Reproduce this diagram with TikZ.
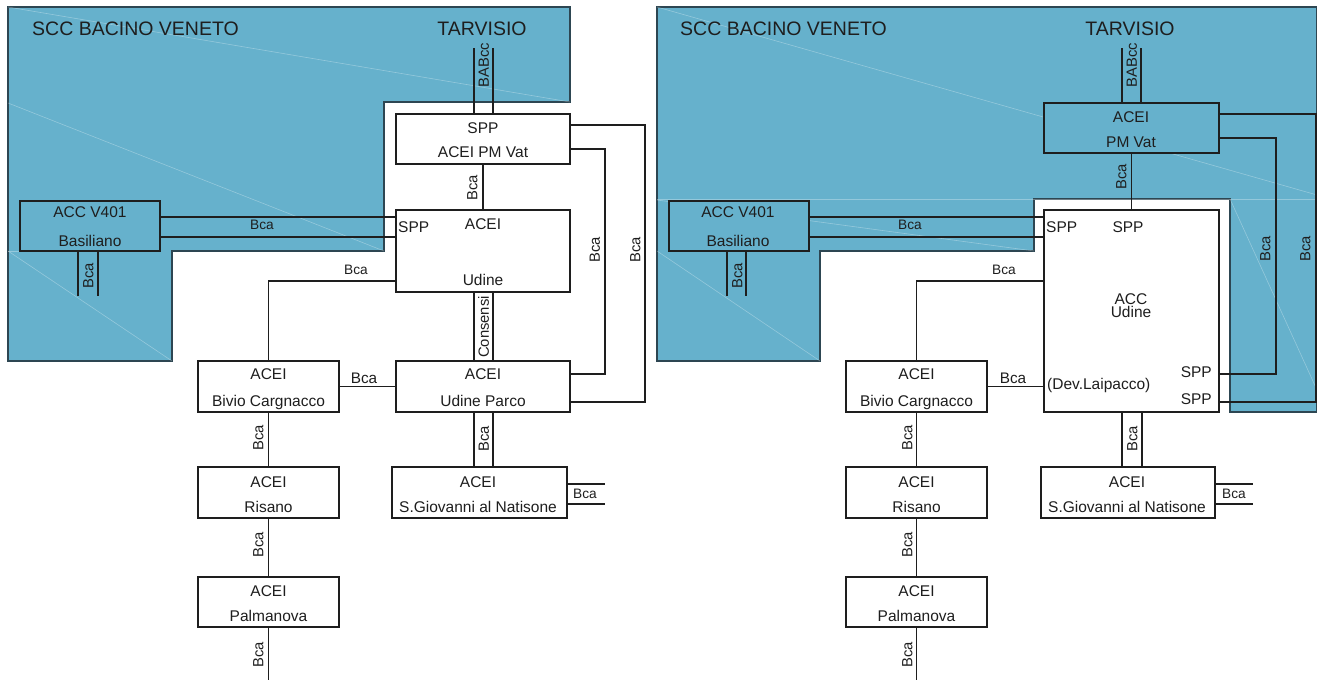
\documentclass[tikz,border=0pt]{standalone}
\usepackage{fontspec}
\setmainfont{Liberation Sans}
\definecolor{bluebg}{RGB}{102,177,204}
\definecolor{blueline}{RGB}{45,70,82}
\definecolor{ink}{RGB}{30,30,30}
\begin{document}
\begin{tikzpicture}[x=1pt,y=-1pt,
 box/.style={draw=ink, line width=1.1pt, fill=white, inner sep=0pt, outer sep=0pt},
 bbox/.style={box, fill=bluebg},
 wire/.style={draw=ink, line width=1.1pt},
 txt/.style={font=\fontsize{15.5}{18}\selectfont, inner sep=0pt, text height=11.1pt, text depth=0pt, text=ink},
 big/.style={font=\fontsize{19.5}{22}\selectfont, inner sep=0pt, text height=14pt, text depth=0pt, text=ink},
 sm/.style={font=\fontsize{13.7}{16}\selectfont, inner sep=0pt, text height=9.8pt, text depth=0pt, text=ink},
 mid/.style={font=\fontsize{15.3}{18}\selectfont, inner sep=0pt, text height=11pt, text depth=0pt, text=ink},
 rl/.style={font=\fontsize{14.8}{17}\selectfont, inner sep=0pt, text height=10.6pt, text depth=0pt, rotate=90, text=ink},
 zone/.style={fill=bluebg, draw=blueline, line width=1.1pt},
 faint/.style={draw=white, opacity=0.3, line width=0.6pt}
]
\useasboundingbox (0,0) rectangle (1317,680);

% ---------------- zones ----------------
\path[zone] (8,7) -- (570,7) -- (570,102) -- (384,102) -- (384,251) -- (172,251) -- (172,361) -- (8,361) -- cycle;
\path[zone] (657,7) -- (1317,7) -- (1317,412) -- (1230,412) -- (1230,199) -- (1034,199) -- (1034,251) -- (820,251) -- (820,361) -- (657,361) -- cycle;
\draw[faint] (8,7) -- (570,102);
\draw[faint] (8,103) -- (384,251);
\draw[faint] (8,251) -- (172,361);
\draw[faint] (8,251) -- (20,251);
\draw[faint] (657,7) -- (1317,195);
\draw[faint] (657,199) -- (1317,199);
\draw[faint] (657,200) -- (1034,251);
\draw[faint] (657,251) -- (820,361);
\draw[faint] (1230,199) -- (1317,390);

% ---------------- left panel boxes ----------------
\node[box, minimum width=174pt, minimum height=50pt] (pmvat) at (483,139) {};
\node[box, minimum width=174pt, minimum height=82pt] (udine) at (483,251) {};
\node[bbox, minimum width=140pt, minimum height=50pt] (acc) at (90,226) {};
\node[box, minimum width=141pt, minimum height=51pt] (bivio) at (268.5,386.5) {};
\node[box, minimum width=174pt, minimum height=51pt] (parco) at (483,386.5) {};
\node[box, minimum width=141pt, minimum height=51pt] (risano) at (268.5,492.5) {};
\node[box, minimum width=141pt, minimum height=50pt] (palma) at (268.5,602) {};
\node[box, minimum width=175pt, minimum height=51pt] (sgio) at (479.5,492.5) {};

% ---------------- left panel connectors ----------------
\coordinate (tvA) at (474,48);
\coordinate (tvB) at (493,48);
\draw[wire] (tvA) -- (tvA |- pmvat.north);
\draw[wire] (tvB) -- (tvB |- pmvat.north);
\draw[wire] (pmvat.south) -- (udine.north);
\coordinate (accR1) at ([yshift=9pt]acc.east);
\coordinate (accR2) at ([yshift=-11pt]acc.east);
\draw[wire] (accR1) -- (accR1 -| udine.west);
\draw[wire] (accR2) -- (accR2 -| udine.west);
\coordinate (accB1) at ([xshift=-12pt]acc.south);
\coordinate (accB2) at ([xshift=8pt]acc.south);
\coordinate (accE1) at (78,296);
\coordinate (accE2) at (98,296);
\draw[wire] (accB1) -- (accE1);
\draw[wire] (accB2) -- (accE2);
\draw[wire] ([yshift=-30pt]udine.west) -| (bivio.north);
\draw[wire] ([xshift=-9pt]udine.south) -- ([xshift=-9pt]parco.north);
\draw[wire] ([xshift=10pt]udine.south) -- ([xshift=10pt]parco.north);
\draw[wire] ([yshift=-10pt]pmvat.east) -- ++(35,0) |- ([yshift=12.5pt]parco.east);
\draw[wire] ([yshift=14pt]pmvat.east) -- ++(75,0) |- ([yshift=-15.5pt]parco.east);
\draw[wire] (bivio.east) -- (parco.west);
\draw[wire] (bivio.south) -- (risano.north);
\draw[wire] (risano.south) -- (palma.north);
\coordinate (palE) at (268.5,680);
\draw[wire] (palma.south) -- (palE);
\coordinate (pcS1) at ([xshift=-9pt]parco.south);
\coordinate (pcS2) at ([xshift=10pt]parco.south);
\draw[wire] (pcS1) -- (pcS1 |- sgio.north);
\draw[wire] (pcS2) -- (pcS2 |- sgio.north);
\draw[wire] ([yshift=8.5pt]sgio.east) -- ++(38,0);
\draw[wire] ([yshift=-11.5pt]sgio.east) -- ++(38,0);

% ---------------- left panel labels ----------------
\node[big, anchor=west] (lhdr) at (32,28) {SCC BACINO VENETO};
\node[big] (ltarv) at (482,28) {TARVISIO};
\node[rl] (lbab) at (483.5,65) {BABcc};
\node[txt] (lpm1) at (483,128) {SPP};
\node[txt] (lpm2) at (483,152) {ACEI PM Vat};
\node[txt] (lud1) at (483,224) {ACEI};
\node[txt] (lud2) at (483,280) {Udine};
\node[txt, anchor=west] (lud3) at (398,227) {SPP};
\node[rl] (lb1) at (472,188) {Bca};
\node[txt] (lac1) at (90,212) {ACC V401};
\node[txt] (lac2) at (90,241) {Basiliano};
\node[sm] (lb2) at (262,225) {Bca};
\node[rl] (lb3) at (88,276) {Bca};
\node[sm] (lb4) at (356,270) {Bca};
\node[rl] (lcons) at (483.5,327) {Consensi};
\node[rl] (lb5) at (594.5,250) {Bca};
\node[rl] (lb6) at (635,250) {Bca};
\node[txt] (lbv1) at (268.5,374) {ACEI};
\node[txt] (lbv2) at (268.5,401) {Bivio Cargnacco};
\node[mid] (lb7) at (364,378) {Bca};
\node[txt] (lpc1) at (483,374) {ACEI};
\node[txt] (lpc2) at (483,401) {Udine Parco};
\node[rl] (lb8) at (258,438) {Bca};
\node[rl] (lb9) at (258,545) {Bca};
\node[rl] (lb10) at (258,655) {Bca};
\node[txt] (lri1) at (268.5,482) {ACEI};
\node[txt] (lri2) at (268.5,507) {Risano};
\node[txt] (lpa1) at (268.5,591) {ACEI};
\node[txt] (lpa2) at (268.5,616) {Palmanova};
\node[rl] (lb11) at (483.5,439) {Bca};
\node[txt] (lsg1) at (478,482) {ACEI};
\node[txt] (lsg2) at (478,507) {S.Giovanni al Natisone};
\node[sm] (lb12) at (585,494) {Bca};

% ---------------- right panel boxes ----------------
\node[bbox, minimum width=175pt, minimum height=50pt] (pmvat2) at (1131.5,128) {};
\node[box, minimum width=175pt, minimum height=202pt] (accu) at (1131.5,311) {};
\node[bbox, minimum width=140pt, minimum height=50pt] (acc2) at (739,226) {};
\node[box, minimum width=141pt, minimum height=51pt] (bivio2) at (916.5,386.5) {};
\node[box, minimum width=141pt, minimum height=51pt] (risano2) at (916.5,492.5) {};
\node[box, minimum width=141pt, minimum height=50pt] (palma2) at (916.5,602) {};
\node[box, minimum width=174pt, minimum height=51pt] (sgio2) at (1128,492.5) {};

% ---------------- right panel connectors ----------------
\coordinate (tvC) at (1122,48);
\coordinate (tvD) at (1141,48);
\draw[wire] (tvC) -- (tvC |- pmvat2.north);
\draw[wire] (tvD) -- (tvD |- pmvat2.north);
\draw[wire] (pmvat2.south) -- (accu.north);
\coordinate (acc2R1) at ([yshift=9pt]acc2.east);
\coordinate (acc2R2) at ([yshift=-11pt]acc2.east);
\draw[wire] (acc2R1) -- (acc2R1 -| accu.west);
\draw[wire] (acc2R2) -- (acc2R2 -| accu.west);
\coordinate (acc2B1) at ([xshift=-12pt]acc2.south);
\coordinate (acc2B2) at ([xshift=7pt]acc2.south);
\coordinate (acc2E1) at (727,296);
\coordinate (acc2E2) at (746,296);
\draw[wire] (acc2B1) -- (acc2E1);
\draw[wire] (acc2B2) -- (acc2E2);
\draw[wire] ([yshift=30pt]accu.west) -| (bivio2.north);
\draw[wire] (bivio2.east) -- (bivio2.east -| accu.west);
\draw[wire] ([yshift=-63pt]accu.east) -- ++(57,0) |- ([yshift=-10pt]pmvat2.east);
\draw[wire] ([yshift=-91pt]accu.east) -- ++(97,0) |- ([yshift=14pt]pmvat2.east);
\draw[wire] (bivio2.south) -- (risano2.north);
\draw[wire] (risano2.south) -- (palma2.north);
\coordinate (palE2) at (916.5,680);
\draw[wire] (palma2.south) -- (palE2);
\coordinate (auS1) at ([xshift=-9.5pt]accu.south);
\coordinate (auS2) at ([xshift=10.5pt]accu.south);
\draw[wire] (auS1) -- (auS1 |- sgio2.north);
\draw[wire] (auS2) -- (auS2 |- sgio2.north);
\draw[wire] ([yshift=8.5pt]sgio2.east) -- ++(38,0);
\draw[wire] ([yshift=-11.5pt]sgio2.east) -- ++(38,0);

% ---------------- right panel labels ----------------
\node[big, anchor=west] (rhdr) at (680,28) {SCC BACINO VENETO};
\node[big] (rtarv) at (1130,28) {TARVISIO};
\node[rl] (rbab) at (1131.5,65) {BABcc};
\node[txt] (rpm1) at (1131,117) {ACEI};
\node[txt] (rpm2) at (1131,142) {PM Vat};
\node[rl] (rb1) at (1121,177) {Bca};
\node[txt, anchor=west] (rau1) at (1046,227) {SPP};
\node[txt] (rau2) at (1128,227) {SPP};
\node[txt] (rau3) at (1131,299) {ACC};
\node[txt] (rau4) at (1131,312) {Udine};
\node[txt, anchor=east] (rau5) at (1212,372) {SPP};
\node[txt, anchor=east] (rau6) at (1212,399) {SPP};
\node[txt, anchor=west] (rau7) at (1047,384) {(Dev.Laipacco)};
\node[rl] (rb2) at (1265,249) {Bca};
\node[rl] (rb3) at (1305,249) {Bca};
\node[txt] (rac1) at (738,212) {ACC V401};
\node[txt] (rac2) at (738,241) {Basiliano};
\node[sm] (rb4) at (910,225) {Bca};
\node[rl] (rb5) at (737,276) {Bca};
\node[sm] (rb6) at (1004,270) {Bca};
\node[txt] (rbv1) at (916.5,374) {ACEI};
\node[txt] (rbv2) at (916.5,401) {Bivio Cargnacco};
\node[mid] (rb7) at (1013,378) {Bca};
\node[rl] (rb8) at (907,438) {Bca};
\node[rl] (rb9) at (907,545) {Bca};
\node[rl] (rb10) at (907,655) {Bca};
\node[txt] (rri1) at (916.5,482) {ACEI};
\node[txt] (rri2) at (916.5,507) {Risano};
\node[txt] (rpa1) at (916.5,591) {ACEI};
\node[txt] (rpa2) at (916.5,616) {Palmanova};
\node[rl] (rb11) at (1132,439) {Bca};
\node[txt] (rsg1) at (1127,482) {ACEI};
\node[txt] (rsg2) at (1127,507) {S.Giovanni al Natisone};
\node[sm] (rb12) at (1234,494) {Bca};
\end{tikzpicture}
\end{document}
